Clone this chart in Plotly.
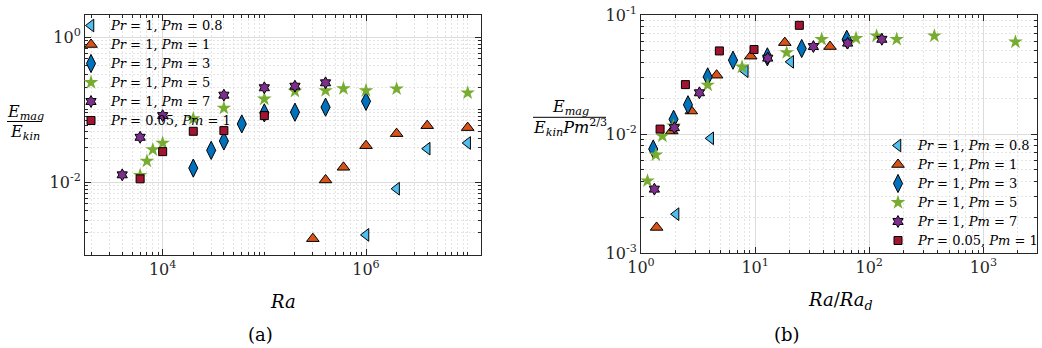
import plotly.graph_objects as go

W, H = 1042, 348

# ---------------- Panel (a): E_mag/E_kin vs Ra ----------------
ra_pm08 = [1e6, 2e6, 4e6, 1e7]
ea_pm08 = [0.00187, 0.0081, 0.0289, 0.0346]

ra_pm1 = [3e5, 4e5, 6e5, 1e6, 2e6, 4e6, 1e7]
ea_pm1 = [0.00166, 0.0107, 0.016, 0.0318, 0.0466, 0.060, 0.0564]

ra_pm3 = [2e4, 3e4, 4e4, 6e4, 1e5, 2e5, 4e5, 1e6]
ea_pm3 = [0.0156, 0.0274, 0.0369, 0.0634, 0.090, 0.092, 0.108, 0.130]

ra_pm5 = [6e3, 7e3, 8e3, 1e4, 2e4, 4e4, 1e5, 2e5, 4e5, 6e5, 1e6, 2e6, 1e7]
ea_pm5 = [0.0124, 0.0195, 0.028, 0.0346, 0.075, 0.105, 0.140, 0.179, 0.183, 0.195, 0.183, 0.193, 0.170]

ra_pm7 = [4e3, 6e3, 1e4, 4e4, 1e5, 2e5, 4e5]
ea_pm7 = [0.0126, 0.0415, 0.0826, 0.158, 0.200, 0.210, 0.234]

ra_pr005 = [6e3, 1e4, 2e4, 4e4, 1e5]
ea_pr005 = [0.0111, 0.0263, 0.0502, 0.0513, 0.0826]

# ---------------- Panel (b): E_mag/(E_kin Pm^2/3) vs Ra/Ra_d ----------------
rb_pm08 = [2.03, 4.08, 8.2, 20.5]
eb_pm08 = [0.00212, 0.0092, 0.0337, 0.0404]

rb_pm1 = [1.37, 1.86, 2.76, 4.6, 9.15, 18.2, 45.3]
eb_pm1 = [0.00164, 0.0106, 0.0156, 0.0312, 0.0451, 0.0586, 0.0543]

rb_pm3 = [1.28, 1.93, 2.58, 3.84, 6.4, 12.8, 25.6, 63.5]
eb_pm3 = [0.00748, 0.0133, 0.0176, 0.0302, 0.0417, 0.0445, 0.0523, 0.0625]

rb_pm5 = [1.14, 1.35, 1.54, 1.93, 3.84, 7.68, 18.9, 38.3, 76.6, 116, 174, 372, 1910]
eb_pm5 = [0.00404, 0.00667, 0.0096, 0.0117, 0.0258, 0.0366, 0.0483, 0.0625, 0.0637, 0.0667, 0.0625, 0.0667, 0.0594]

rb_pm7 = [1.31, 1.96, 3.25, 12.9, 32.4, 64.7, 129]
eb_pm7 = [0.00344, 0.0113, 0.0222, 0.0434, 0.0543, 0.058, 0.0625]

rb_pr005 = [1.47, 2.45, 4.86, 9.78, 24.4]
eb_pr005 = [0.011, 0.026, 0.0499, 0.0513, 0.0819]

pr_vals = ["1", "1", "1", "1", "1", "0.05"]
pm_vals = ["0.8", "1", "3", "5", "7", "1"]

colors = ["#4DBEEE", "#D95319", "#0072BD", "#77AC30", "#7E2F8E", "#A2142F"]
symbols = ["triangle-left", "triangle-up", "diamond-tall", "star", "hexagram", "square"]
sizes = [11, 11, 13, 11, 9, 8]
edge = [1, 1, 1, 0, 1, 1]

series_a = [(ra_pm08, ea_pm08), (ra_pm1, ea_pm1), (ra_pm3, ea_pm3),
            (ra_pm5, ea_pm5), (ra_pm7, ea_pm7), (ra_pr005, ea_pr005)]
series_b = [(rb_pm08, eb_pm08), (rb_pm1, eb_pm1), (rb_pm3, eb_pm3),
            (rb_pm5, eb_pm5), (rb_pm7, eb_pm7), (rb_pr005, eb_pr005)]

xa_ticks = [1e4, 1e6]
xa_text = ["10<sup>4</sup>", "10<sup>6</sup>"]
ya_ticks = [1e-2, 1e0]
ya_text = ["10<sup>-2</sup>", "10<sup>0</sup>"]
xb_ticks = [1, 10, 100, 1000]
xb_text = ["10<sup>0</sup>", "10<sup>1</sup>", "10<sup>2</sup>", "10<sup>3</sup>"]
yb_ticks = [1e-3, 1e-2, 1e-1]
yb_text = ["10<sup>-3</sup>", "10<sup>-2</sup>", "10<sup>-1</sup>"]

FONT = "DejaVu Serif"
AX = "#262626"


def label(pr, pm):
    return ('<span style="font-size:13px"><i>Pr</i> = %s, <i>Pm</i> = %s</span>'
            % (pr, pm))


fig = go.Figure()
for i in range(6):
    mk = dict(symbol=symbols[i], size=sizes[i], color=colors[i],
              line=dict(color="black", width=edge[i]))
    fig.add_trace(go.Scatter(x=series_a[i][0], y=series_a[i][1], mode="markers",
                             name=label(pr_vals[i], pm_vals[i]), marker=mk,
                             xaxis="x", yaxis="y", legend="legend"))
    fig.add_trace(go.Scatter(x=series_b[i][0], y=series_b[i][1], mode="markers",
                             name=label(pr_vals[i], pm_vals[i]), marker=mk,
                             xaxis="x2", yaxis="y2", legend="legend2"))


def minor_vals(lo, hi, majors):
    vals = []
    for e in range(lo, hi + 1):
        for k in range(1, 10):
            v = k * 10.0 ** e
            if all(abs(v - m) / m > 1e-9 for m in majors):
                vals.append(v)
    return vals


def axis(domain, rng, tv, tt, anchor, minors):
    return dict(type="log", domain=domain, range=rng, anchor=anchor,
                automargin=False,
                tickmode="array", tickvals=tv, ticktext=tt,
                showline=True, linecolor=AX, linewidth=1, mirror="ticks",
                ticks="inside", ticklen=6, tickcolor=AX,
                showgrid=True, gridcolor="#dcdcdc", gridwidth=1,
                zeroline=False,
                tickfont=dict(family=FONT, size=16, color=AX),
                minor=dict(tickmode="array", tickvals=minors, ticks="inside",
                           ticklen=3, tickcolor=AX, showgrid=True,
                           gridcolor="#e4e4e4", griddash="2px,2px", gridwidth=1))


fig.update_layout(
    width=W, height=H, margin=dict(l=0, r=0, t=0, b=0, autoexpand=False),
    paper_bgcolor="white", plot_bgcolor="white",
    font=dict(family=FONT, size=12, color="black"),
    xaxis=axis([85 / W, 481 / W], [3.236, 7.131], xa_ticks, xa_text, "y",
               minor_vals(3, 7, xa_ticks)),
    yaxis=axis([1 - 255 / H, 1 - 15 / H], [-3.005, 0.304], ya_ticks, ya_text, "x",
               minor_vals(-3, 0, ya_ticks)),
    xaxis2=axis([641 / W, 1037 / W], [0, 3.47], xb_ticks, xb_text, "y2",
                minor_vals(0, 3, xb_ticks)),
    yaxis2=axis([1 - 253 / H, 1 - 15 / H], [-3, -1], yb_ticks, yb_text, "x2",
                minor_vals(-3, -2, yb_ticks)),
    legend=dict(x=71 / W, y=1 - 11 / H, xanchor="left", yanchor="top",
                bgcolor="rgba(255,255,255,0)", borderwidth=0,
                font=dict(family=FONT, size=12), itemwidth=30, tracegroupgap=0),
    legend2=dict(x=1044 / W, y=1 - 255 / H, xanchor="right", yanchor="bottom",
                 bgcolor="rgba(255,255,255,0)", borderwidth=0,
                 font=dict(family=FONT, size=12), itemwidth=30, tracegroupgap=0),
    showlegend=True,
)


def px(x):
    return x / W


def py(y):
    return 1 - y / H


ann = [
    dict(x=px(283), y=py(301), text="<i>Ra</i>", size=18),
    dict(x=px(260), y=py(334), text="(a)", size=18),
    dict(x=px(840), y=py(301), text="<i>Ra</i>/<i>Ra</i><sub><i>d</i></sub>", size=18),
    dict(x=px(787), y=py(334), text="(b)", size=18),
    dict(x=px(25), y=py(112), text="<i>E</i><sub><i>mag</i></sub>", size=16),
    dict(x=px(25), y=py(132), text="<i>E</i><sub><i>kin</i></sub>", size=16),
    dict(x=px(570), y=py(107), text="<i>E</i><sub><i>mag</i></sub>", size=16),
    dict(x=px(570), y=py(127), text="<i>E</i><sub><i>kin</i></sub><i>Pm</i><sup>2/3</sup>", size=16),
]
for a in ann:
    fig.add_annotation(x=a["x"], y=a["y"], xref="paper", yref="paper",
                       text=a["text"], showarrow=False, xanchor="center",
                       yanchor="middle", font=dict(family=FONT, size=a["size"], color="black"))

fig.add_shape(type="line", xref="paper", yref="paper", x0=px(7), x1=px(42),
              y0=py(121.5), y1=py(121.5), line=dict(color="black", width=1))
fig.add_shape(type="line", xref="paper", yref="paper", x0=px(533), x1=px(606),
              y0=py(117.3), y1=py(117.3), line=dict(color="black", width=1))

fig.write_html("out.html")
